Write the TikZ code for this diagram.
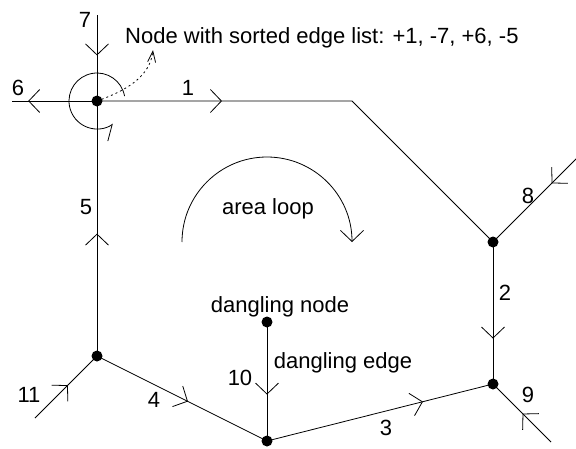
\documentclass[tikz,border=0pt]{standalone}
\usepackage{fontspec}
\setmainfont{Liberation Sans}
\usetikzlibrary{arrows.meta,decorations.markings}
\tikzset{
  edge/.style={line width=0.8pt},
  mid/.style={edge,postaction={decorate},decoration={markings,
     mark=at position #1 with {\arrow{Straight Barb[length=11pt,width=23pt,line width=0.8pt]}}}},
  dot/.style={circle,fill=black,inner sep=0pt,minimum size=11pt},
  lbl/.style={inner sep=0pt,anchor=base,font=\fontsize{22}{26}\selectfont},
}
\begin{document}
\begin{tikzpicture}[x=1pt,y=-1pt]
\useasboundingbox (0,0) rectangle (576,448);
% vertices
\node[dot] (A) at (97,101) {};
\node[dot] (B) at (493,242) {};
\node[dot] (C) at (493,384) {};
\node[dot] (D) at (267,441) {};
\node[dot] (E) at (97,356) {};
\node[dot] (F) at (267,322) {};
\coordinate (K) at (352,101);
\coordinate (e7) at (97,15);
\coordinate (e6) at (12,101);
\coordinate (e8) at (578,157);
\coordinate (e9) at (551,442);
\coordinate (e11) at (35,418);
% edges
\draw[mid=0.47] (e7) -- (A.center);
\draw[mid=0.81] (A.center) -- (e6);
\draw[mid=0.275] (A.center) -- (K) -- (B.center);
\draw[mid=0.31] (e8) -- (B.center);
\draw[mid=0.68] (B.center) -- (C.center);
\draw[mid=0.49] (e9) -- (C.center);
\draw[mid=0.69] (D.center) -- (C.center);
\draw[mid=0.535] (E.center) -- (D.center);
\draw[mid=0.48] (E.center) -- (A.center);
\draw[mid=0.53] (e11) -- (E.center);
\draw[mid=0.61] (F.center) -- (D.center);
% labels
\node[lbl] (l7) at (85,27) {7};
\node[lbl] (l6) at (18,95) {6};
\node[lbl] (l1) at (188,95) {1};
\node[lbl] (l5) at (86,214) {5};
\node[lbl] (l8) at (528,203) {8};
\node[lbl] (l2) at (505,300) {2};
\node[lbl] (l9) at (528,402) {9};
\node[lbl] (l3) at (386,435) {3};
\node[lbl] (l4) at (154,407) {4};
\node[lbl] (l11) at (29,402) {11};
\node[lbl] (l10) at (240,385) {10};
\node[lbl] (de) at (343,368) {dangling edge};
\node[lbl] (dn) at (280,312) {dangling node};
\node[lbl] (al) at (268,214) {area loop};
\node[lbl,anchor=base west] (note) at (125,43) {Node with sorted edge list: +1, -7, +6, -5};
% annotations
\draw[edge,-{Straight Barb[length=13pt,width=22pt,right]}] ([shift={(-10:28)}]A.center) arc[start angle=-10, end angle=-305, radius=28];
\draw[line width=0.8pt,dash pattern=on 2pt off 3pt,-{Straight Barb[length=11pt,width=8pt]}]
  (A.center) .. controls (128,90) and (150,76) .. (153,50);
\draw[edge,-{Straight Barb[length=11pt,width=23pt]}] (182,242) arc[start angle=180, end angle=360, radius=85];
\end{tikzpicture}
\end{document}
